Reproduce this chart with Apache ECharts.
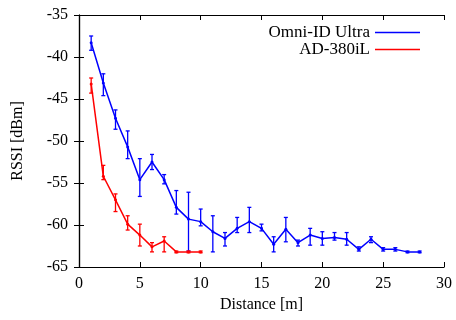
<!DOCTYPE html>
<html>
<head>
<meta charset="utf-8">
<script src="https://cdn.jsdelivr.net/npm/echarts@6/dist/echarts.min.js"></script>
<style>html,body{margin:0;padding:0;background:#fff}#c{width:456px;height:320px}</style>
</head>
<body>
<div id="c"></div>
<script>
var xTicks = [0, 5, 10, 15, 20, 25, 30];
var yTicks = [-65, -60, -55, -50, -45, -40, -35];

var omniDist = [1,2,3,4,5,6,7,8,9,10,11,12,13,14,15,16,17,18,19,20,21,22,23,24,25,26,27,28];
var omniMean = [-38.3,-43.1,-47.3,-50.7,-54.6,-52.5,-54.6,-57.9,-59.3,-59.6,-60.8,-61.6,-60.4,-59.6,-60.4,-62.3,-60.5,-62.1,-61.2,-61.6,-61.5,-61.7,-62.9,-61.7,-62.9,-62.9,-63.2,-63.2];
var omniLow  = [-39.2,-44.6,-48.6,-52.1,-56.6,-53.4,-55.1,-58.7,-63.1,-60.1,-63.2,-62.5,-60.9,-60.9,-60.7,-63.2,-62.0,-62.5,-62.4,-62.4,-61.8,-62.4,-63.1,-62.1,-63.1,-63.1,-63.3,-63.3];
var omniHigh = [-37.5,-42.0,-46.3,-48.8,-52.1,-51.6,-54.0,-55.9,-56.1,-58.1,-58.9,-60.9,-59.1,-57.9,-59.9,-61.4,-59.1,-61.8,-60.4,-60.8,-60.9,-60.9,-62.6,-61.4,-62.7,-62.7,-63.1,-63.1];

var adDist = [1,2,3,4,5,6,7,8,9,10];
var adMean = [-43.2,-54.2,-57.0,-59.9,-61.2,-62.6,-61.9,-63.2,-63.2,-63.2];
var adLow  = [-44.3,-54.6,-58.4,-60.6,-62.5,-63.2,-63.2,-63.3,-63.3,-63.3];
var adHigh = [-42.5,-52.9,-56.3,-58.9,-59.9,-62.1,-61.4,-63.1,-63.1,-63.1];

var FONT = 'Liberation Serif';
var BLUE = '#0000ff', RED = '#ff0000';

function pairs(xs, ys){ return xs.map(function(x,i){ return [x, ys[i]]; }); }
function triples(xs, lo, hi){ return xs.map(function(x,i){ return [x, lo[i], hi[i]]; }); }

function errorSeries(name, data, color){
  return {
    name: name, type: 'custom', data: data, z: 3,
    encode: {x: 0, y: [1, 2]},
    renderItem: function(params, api){
      var lo = api.coord([api.value(0), api.value(1)]);
      var hi = api.coord([api.value(0), api.value(2)]);
      var w = 2;
      var st = {stroke: color, lineWidth: 1.3};
      return {type: 'group', children: [
        {type:'line', shape:{x1:lo[0], y1:lo[1], x2:hi[0], y2:hi[1]}, style: st},
        {type:'line', shape:{x1:lo[0]-w, y1:lo[1], x2:lo[0]+w, y2:lo[1]}, style: st},
        {type:'line', shape:{x1:hi[0]-w, y1:hi[1], x2:hi[0]+w, y2:hi[1]}, style: st}
      ]};
    }
  };
}

var tickStyle = {show:true, inside:true, length:5, lineStyle:{color:'#000', width:1}};
var lineStyleAxis = {show:true, lineStyle:{color:'#000', width:1.2}};
var labelStyle = {fontFamily: FONT, fontSize: 16, color: '#000'};

var option = {
  animation: false,
  backgroundColor: '#fff',
  grid: {left: 79, right: 12, top: 15, bottom: 53, show: false},
  legend: {
    data: [{name:'Omni-ID Ultra'}, {name:'AD-380iL'}],
    orient: 'vertical', align: 'right',
    right: 31, top: 19,
    icon: 'rect', itemWidth: 45, itemHeight: 1.5, itemGap: 0,
    textStyle: {fontFamily: FONT, fontSize: 17, lineHeight: 16, color: '#000', padding: [0,0,0,0]},
    selectedMode: false
  },
  xAxis: [
    {type:'value', min:0, max:30, interval:5, position:'bottom',
     axisLine: lineStyleAxis, axisTick: tickStyle, splitLine:{show:false},
     axisLabel: Object.assign({margin: 9, formatter: function(v){ return xTicks.indexOf(v) >= 0 ? String(v) : ''; }}, labelStyle),
     name: 'Distance [m]', nameLocation: 'middle', nameGap: 27,
     nameTextStyle: {fontFamily: FONT, fontSize: 16, color: '#000'}},
    {type:'value', min:0, max:30, interval:5, position:'top',
     axisLine: lineStyleAxis, axisTick: tickStyle, splitLine:{show:false}, axisLabel:{show:false}}
  ],
  yAxis: [
    {type:'value', min:-65, max:-35, interval:5, position:'left',
     axisLine: lineStyleAxis, axisTick: tickStyle, splitLine:{show:false},
     axisLabel: Object.assign({margin: 11, formatter: function(v){ return yTicks.indexOf(v) >= 0 ? String(v) : ''; }}, labelStyle),
     name: 'RSSI [dBm]', nameLocation: 'middle', nameGap: 53,
     nameTextStyle: {fontFamily: FONT, fontSize: 16, color: '#000'}},
    {type:'value', min:-65, max:-35, interval:5, position:'right',
     axisLine: lineStyleAxis, axisTick: tickStyle, splitLine:{show:false}, axisLabel:{show:false}}
  ],
  series: [
    {name:'Omni-ID Ultra', type:'line', data: pairs(omniDist, omniMean), z: 4,
     lineStyle:{color:BLUE, width:1.5}, itemStyle:{color:BLUE},
     symbol:'circle', symbolSize:3, showSymbol:true},
    {name:'AD-380iL', type:'line', data: pairs(adDist, adMean), z: 4,
     lineStyle:{color:RED, width:1.5}, itemStyle:{color:RED},
     symbol:'circle', symbolSize:3, showSymbol:true},
    errorSeries('omniErr', triples(omniDist, omniLow, omniHigh), BLUE),
    errorSeries('adErr', triples(adDist, adLow, adHigh), RED)
  ]
};

var chart = echarts.init(document.getElementById('c'), null, {renderer: 'canvas'});
chart.setOption(option);
</script>
</body>
</html>
